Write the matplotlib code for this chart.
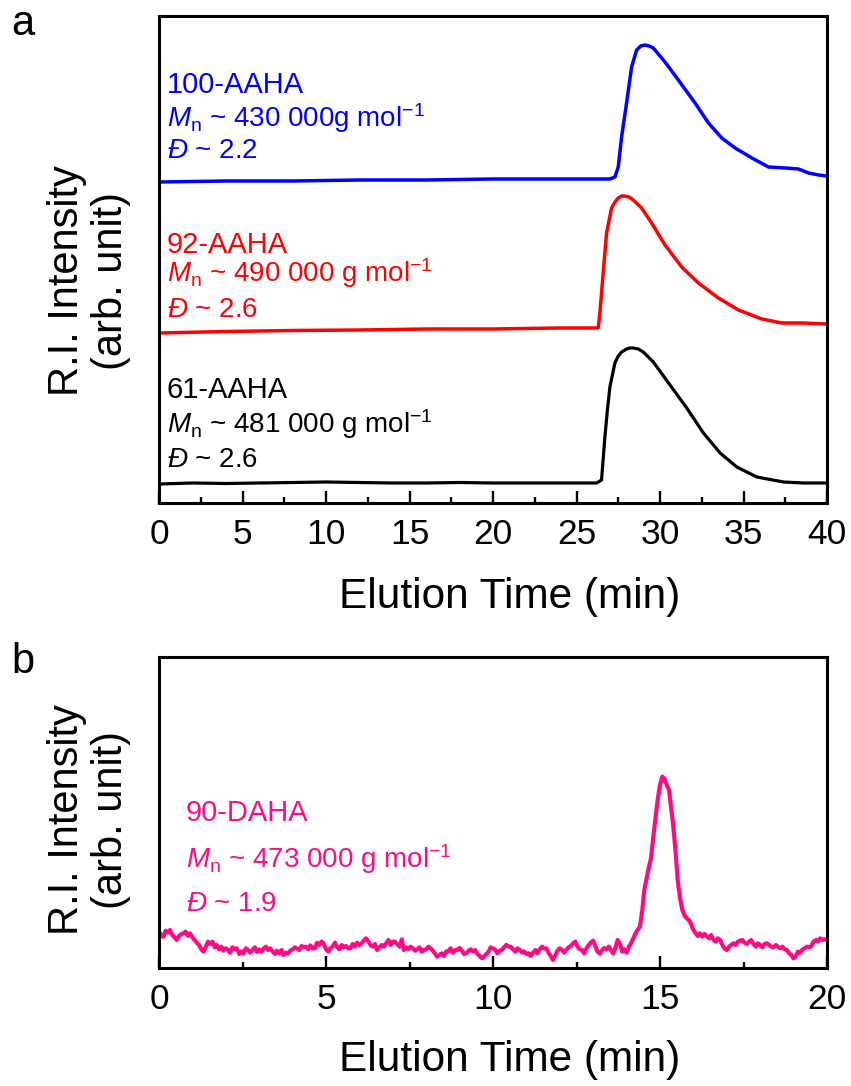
import numpy as np
import matplotlib.pyplot as plt
from matplotlib.ticker import MultipleLocator

plt.rcParams['font.family'] = ['Liberation Sans', 'DejaVu Sans']
plt.rcParams['mathtext.fontset'] = 'custom'
plt.rcParams['mathtext.rm'] = 'Liberation Sans'
plt.rcParams['mathtext.it'] = 'Liberation Sans:italic'

# ---- panel a: GPC traces (elution time in min, intensity arb.)
blackT = [0, 2, 4, 6, 8, 10, 12, 14, 16, 18, 20, 22, 24, 25.5, 26.2, 26.5, 26.7, 26.85, 27.0,
          27.3, 27.5, 27.7, 28.0, 28.2, 28.4, 28.7, 29.0, 29.6, 30.6, 31.6, 32.6, 33.6, 34.6,
          35.8, 37.4, 38.6, 40]
blackI = [18, 19, 18.5, 19, 19.5, 20, 19.5, 19, 19, 19.5, 19, 19, 19, 19, 19, 22, 65, 92, 115,
          139, 146, 150, 153, 154, 154, 153, 150, 140, 117, 94, 69, 49, 35,
          25, 20, 19, 19]

redT = [0, 4, 8, 12, 16, 20, 24, 26.0, 26.3, 26.4, 26.6, 26.8, 27.1, 27.3, 27.5, 27.7, 27.9,
        28.15, 28.4, 28.9, 29.5, 30.3, 31.3, 32.3, 33.5, 34.7, 36.1, 37.3, 38.6, 40]
redI = [169, 170.5, 171.5, 172, 173, 173, 174, 174, 174, 189, 229, 269, 294, 300, 304, 306, 306,
        305, 302, 294, 279, 257, 235, 219, 204, 192, 183, 179, 179, 178]

blueT = [0, 4, 8, 12, 16, 20, 24, 27.0, 27.3, 27.5, 27.7, 28.0, 28.3, 28.6, 28.85, 29.1, 29.35,
         29.6, 30.3, 31.1, 32.1, 32.9, 33.7, 34.5, 35.5, 36.5, 37.5, 38.3, 38.9, 39.5, 40]
blueI = [320, 321, 321, 322, 322, 323, 323, 323, 325, 335, 365, 399, 435, 452, 456, 457, 456,
         454, 440, 422, 399, 379, 364, 354, 344, 335, 334, 333, 329, 327, 326]

# ---- panel b: 90-DAHA trace
pinkT = [0.00, 0.07, 0.13, 0.20, 0.27, 0.33, 0.40, 0.47, 0.53, 0.60, 0.67, 0.73, 0.80, 0.87, 0.93,
         1.00, 1.07, 1.13, 1.20, 1.27, 1.33, 1.40, 1.47, 1.53, 1.60, 1.67, 1.73, 1.80, 1.87, 1.93,
         2.00, 2.07, 2.13, 2.20, 2.27, 2.33, 2.40, 2.47, 2.53, 2.60, 2.67, 2.73, 2.80, 2.87, 2.93,
         3.00, 3.07, 3.13, 3.20, 3.27, 3.33, 3.40, 3.47, 3.53, 3.60, 3.67, 3.73, 3.80, 3.87, 3.93,
         4.00, 4.07, 4.13, 4.20, 4.27, 4.33, 4.40, 4.47, 4.53, 4.60, 4.67, 4.73, 4.80, 4.87, 4.93,
         5.00, 5.07, 5.13, 5.20, 5.27, 5.33, 5.40, 5.47, 5.53, 5.60, 5.67, 5.73, 5.80, 5.87, 5.93,
         6.00, 6.07, 6.13, 6.20, 6.27, 6.33, 6.40, 6.47, 6.53, 6.60, 6.67, 6.73, 6.80, 6.87, 6.93,
         7.00, 7.07, 7.13, 7.20, 7.27, 7.33, 7.40, 7.47, 7.53, 7.60, 7.67, 7.73, 7.80, 7.87, 7.93,
         8.00, 8.07, 8.13, 8.20, 8.27, 8.33, 8.40, 8.47, 8.53, 8.60, 8.67, 8.73, 8.80, 8.87, 8.93,
         9.00, 9.07, 9.13, 9.20, 9.27, 9.33, 9.40, 9.47, 9.53, 9.60, 9.67, 9.73, 9.80, 9.87, 9.93,
         10.00, 10.07, 10.13, 10.20, 10.27, 10.33, 10.40, 10.47, 10.53, 10.60, 10.67, 10.73, 10.80, 10.87, 10.93,
         11.00, 11.07, 11.13, 11.20, 11.27, 11.33, 11.40, 11.47, 11.53, 11.60, 11.67, 11.73, 11.80, 11.87, 11.93,
         12.00, 12.07, 12.13, 12.20, 12.27, 12.33, 12.40, 12.47, 12.53, 12.60, 12.67, 12.73, 12.80, 12.87, 12.93,
         13.00, 13.07, 13.13, 13.20, 13.27, 13.33, 13.40, 13.47, 13.53, 13.60, 13.67, 13.73, 13.80, 13.87, 13.93,
         14.00, 14.07, 14.13, 14.20, 14.27, 14.33, 14.40, 14.47, 14.53, 14.60, 14.67, 14.73, 14.80, 14.87, 14.93,
         15.00, 15.07, 15.13, 15.20, 15.27, 15.33, 15.40, 15.47, 15.53, 15.60, 15.67, 15.73, 15.80, 15.87, 15.93,
         16.00, 16.07, 16.13, 16.20, 16.27, 16.33, 16.40, 16.47, 16.53, 16.60, 16.67, 16.73, 16.80, 16.87, 16.93,
         17.00, 17.07, 17.13, 17.20, 17.27, 17.33, 17.40, 17.47, 17.53, 17.60, 17.67, 17.73, 17.80, 17.87, 17.93,
         18.00, 18.07, 18.13, 18.20, 18.27, 18.33, 18.40, 18.47, 18.53, 18.60, 18.67, 18.73, 18.80, 18.87, 18.93,
         19.00, 19.07, 19.13, 19.20, 19.27, 19.33, 19.40, 19.47, 19.53, 19.60, 19.67, 19.73, 19.80, 19.87, 19.93,
         20.00]
pinkI = [125, 112, 110, 128, 122, 130, 115, 108, 100, 112, 118, 120, 125, 112, 120,
         108, 100, 92, 85, 72, 65, 80, 95, 88, 95, 78, 85, 72, 80, 68,
         75, 70, 62, 78, 72, 75, 58, 66, 60, 75, 70, 62, 70, 78, 64,
         72, 65, 74, 80, 70, 75, 66, 58, 68, 60, 70, 55, 62, 60, 68,
         72, 78, 75, 70, 82, 78, 80, 72, 84, 75, 75, 92, 85, 95, 90,
         72, 65, 75, 80, 92, 80, 72, 85, 78, 82, 75, 75, 88, 80, 92,
         85, 90, 98, 105, 95, 85, 80, 88, 70, 78, 85, 80, 90, 100, 85,
         95, 95, 88, 80, 102, 70, 78, 72, 80, 75, 68, 72, 78, 65, 70,
         72, 80, 75, 68, 58, 50, 55, 60, 52, 66, 65, 75, 62, 70, 70,
         76, 68, 58, 60, 68, 72, 65, 70, 58, 52, 45, 50, 58, 65, 78,
         75, 70, 60, 68, 70, 78, 85, 80, 80, 72, 65, 75, 70, 62, 66,
         58, 60, 52, 62, 70, 60, 72, 80, 75, 75, 60, 52, 40, 55, 68,
         75, 70, 62, 72, 78, 82, 90, 95, 80, 72, 70, 60, 75, 85, 92,
         98, 80, 65, 60, 70, 76, 72, 80, 70, 60, 78, 100, 90, 65, 72,
         62, 80, 90, 105, 120, 130, 140, 190, 250, 285, 320, 345, 410, 470, 520,
         565, 590, 585, 565, 550, 500, 440, 360, 280, 225, 190, 175, 165, 160, 148,
         130, 120, 112, 120, 110, 118, 112, 105, 115, 100, 95, 105, 100, 85, 75,
         70, 80, 85, 90, 85, 95, 98, 100, 92, 88, 95, 100, 88, 80, 90,
         85, 78, 88, 90, 85, 80, 78, 85, 80, 75, 80, 72, 70, 60, 55,
         45, 52, 65, 62, 72, 75, 80, 78, 82, 95, 100, 96, 105, 100, 102,
         102]

labelsA = ['100-AAHA', '92-AAHA', '61-AAHA']
mnA = ['430 000g', '490 000 g', '481 000 g']
dispA = ['2.2', '2.6', '2.6']
colorsA = ['#0000ff', '#ff0000', '#000000']
pink = '#ff0a82'

W, H = 851, 1086
fig = plt.figure(figsize=(W / 100, H / 100), dpi=100)

def px(x, y):
    return x / W, 1 - y / H

def style(ax, xmax, major, label_y):
    for s in ax.spines.values():
        s.set_linewidth(2.2)
    ax.set_xlim(0, xmax)
    ax.xaxis.set_major_locator(MultipleLocator(major))
    ax.xaxis.set_minor_locator(MultipleLocator(major / 2))
    ax.tick_params(axis='x', which='major', direction='in', length=9, width=1.7,
                   labelsize=25.5, pad=11)
    ax.tick_params(axis='x', which='minor', direction='in', length=4.5, width=1.7)
    ax.tick_params(axis='y', left=False, labelleft=False)
    ax.set_xlabel('Elution Time (min)', fontsize=30.5)
    ax.xaxis.set_label_coords(0.525, label_y)

# panel a
axA = fig.add_axes([159 / W, 1 - 503 / H, 668 / W, 487 / H])
axA.plot(blackT, blackI, color='black', lw=2.3)
axA.plot(redT, redI, color='#ff0000', lw=2.5)
axA.plot(blueT, blueI, color='#0000ff', lw=2.5)
axA.set_ylim(-1, 486)
style(axA, 40, 5, -0.152)

baselines = [(93, 127, 158), (253, 282, 317), (398, 433, 467)]
for name, mn, d, c, (y1, y2, y3) in zip(labelsA, mnA, dispA, colorsA, baselines):
    fig.text(*px(167, y1), name, color=c, fontsize=21, va='baseline')
    fig.text(*px(167, y2), r'$M_\mathrm{n}$ ~ ' + mn + r' mol$^{-1}$', color=c,
             fontsize=20, va='baseline')
    fig.text(*px(167, y3), r'$\mathit{Đ}$ ~ ' + d, color=c, fontsize=20, va='baseline')

# panel b
axB = fig.add_axes([159 / W, 1 - 968 / H, 668 / W, 311 / H])
axB.plot(pinkT, pinkI, color=pink, lw=3.0)
axB.set_ylim(16, 949)
style(axB, 20, 5, -0.232)

fig.text(*px(186, 821), '90-DAHA', color=pink, fontsize=21, va='baseline')
fig.text(*px(186, 868), r'$M_\mathrm{n}$ ~ 473 000 g mol$^{-1}$', color=pink,
         fontsize=20, va='baseline')
fig.text(*px(186, 911), r'$\mathit{Đ}$ ~ 1.9', color=pink, fontsize=20, va='baseline')

# y labels and panel letters
for yc in (281, 820):
    fig.text(*px(89, yc), 'R.I. Intensity\n(arb. unit)', rotation=90, fontsize=30,
             ha='center', va='center', multialignment='center', linespacing=1.15)
fig.text(*px(11, 35), 'a', fontsize=30, va='baseline')
fig.text(*px(11, 673), 'b', fontsize=30, va='baseline')

fig.savefig('out.png', dpi=100)
